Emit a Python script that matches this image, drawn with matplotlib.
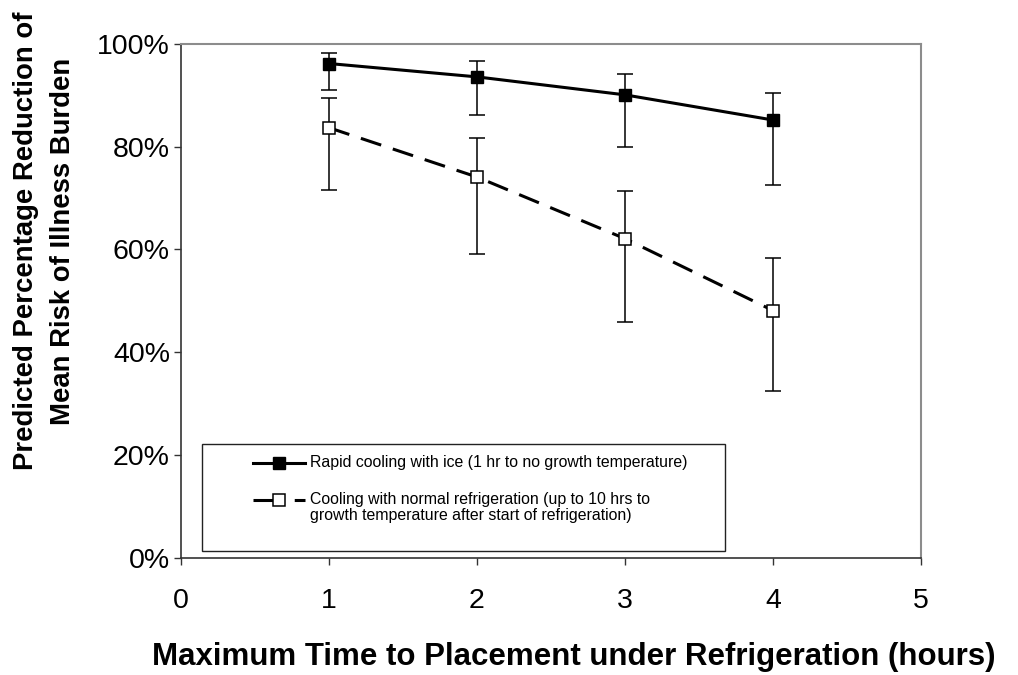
import matplotlib
matplotlib.use("Agg")
import matplotlib.pyplot as plt
from matplotlib.patches import Rectangle
from matplotlib.ticker import PercentFormatter

plt.rcParams['font.family'] = ['Liberation Sans', 'DejaVu Sans']

# data (percent)
hours = [1, 2, 3, 4]

ice_mean = [96.2, 93.6, 90.1, 85.2]
ice_upper = [98.2, 96.7, 94.1, 90.5]
ice_lower = [91.0, 86.2, 80.0, 72.6]

fridge_mean = [83.7, 74.1, 62.1, 48.1]
fridge_upper = [89.4, 81.7, 71.3, 58.3]
fridge_lower = [71.5, 59.2, 45.9, 32.4]

ice_label = "Rapid cooling with ice (1 hr to no growth temperature)"
fridge_label = ("Cooling with normal refrigeration (up to 10 hrs to\n"
                "growth temperature after start of refrigeration)")

x_ticks = [0, 1, 2, 3, 4, 5]
y_ticks = [0, 20, 40, 60, 80, 100]

fig = plt.figure(figsize=(10.18, 6.75), dpi=100)
ax = fig.add_axes([0.1778, 0.174, 0.7269, 0.7608])


def err(mean, lo, hi):
    return [[m - l for m, l in zip(mean, lo)], [h - m for m, h in zip(mean, hi)]]


# error bars
ax.errorbar(hours, ice_mean, yerr=err(ice_mean, ice_lower, ice_upper),
            fmt='none', ecolor='black', elinewidth=1.1, capsize=6,
            capthick=1.1, zorder=2)
ax.errorbar(hours, fridge_mean, yerr=err(fridge_mean, fridge_lower, fridge_upper),
            fmt='none', ecolor='black', elinewidth=1.1, capsize=6,
            capthick=1.1, zorder=2)

# series
ax.plot(hours, ice_mean, color='black', linewidth=2.2, marker='s',
        markersize=9, markerfacecolor='black', markeredgecolor='black',
        zorder=3)
ax.plot(hours, fridge_mean, color='black', linewidth=2.2, linestyle=(0, (7, 4)),
        marker='s', markersize=8.5, markerfacecolor='white',
        markeredgecolor='black', markeredgewidth=1.1, zorder=3)

ax.set_xlim(0, 5)
ax.set_ylim(0, 100)
ax.set_xticks(x_ticks)
ax.set_yticks(y_ticks)
ax.yaxis.set_major_formatter(PercentFormatter(decimals=0))
ax.tick_params(axis='both', direction='out', length=5, width=1,
               labelsize=20.5, color='#333333')
ax.tick_params(axis='x', pad=17)
ax.tick_params(axis='y', pad=3)

for side in ['left', 'bottom']:
    ax.spines[side].set_color('#333333')
    ax.spines[side].set_linewidth(1.2)
for side in ['top', 'right']:
    ax.spines[side].set_color('#8c8c8c')
    ax.spines[side].set_linewidth(1.5)

# legend drawn as a box inside the plot area
tr = ax.transAxes
ax.add_patch(Rectangle((0.029, 0.013), 0.706, 0.209, transform=tr,
                       facecolor='white', edgecolor='#222222',
                       linewidth=1.0, zorder=4))
ax.plot([0.0977, 0.1676], [0.185, 0.185], transform=tr, color='black',
        linewidth=2.2, zorder=5)
ax.plot([0.1327], [0.185], transform=tr, marker='s', markersize=8,
        color='black', zorder=6)
ax.plot([0.0977, 0.1676], [0.113, 0.113], transform=tr, color='black',
        linewidth=2.2, linestyle=(0, (9, 4.5)), zorder=5)
ax.plot([0.1327], [0.113], transform=tr, marker='s', markersize=8,
        markerfacecolor='white', markeredgecolor='black',
        markeredgewidth=1.1, zorder=6)
ax.text(0.174, 0.185, ice_label, transform=tr, fontsize=11.4,
        va='center', ha='left', zorder=6)
ax.text(0.174, 0.128, fridge_label, transform=tr, fontsize=11.4,
        va='top', ha='left', linespacing=1.1, zorder=6)

fig.text(0.564, 0.026, "Maximum Time to Placement under Refrigeration (hours)",
         fontsize=22.5, fontweight='bold', ha='center', va='center')
fig.text(0.0437, 0.643, "Predicted Percentage Reduction of\nMean Risk of Illness Burden",
         fontsize=19.8, fontweight='bold', ha='center', va='center',
         rotation=90, linespacing=1.55)

fig.savefig("out.png", dpi=100)
